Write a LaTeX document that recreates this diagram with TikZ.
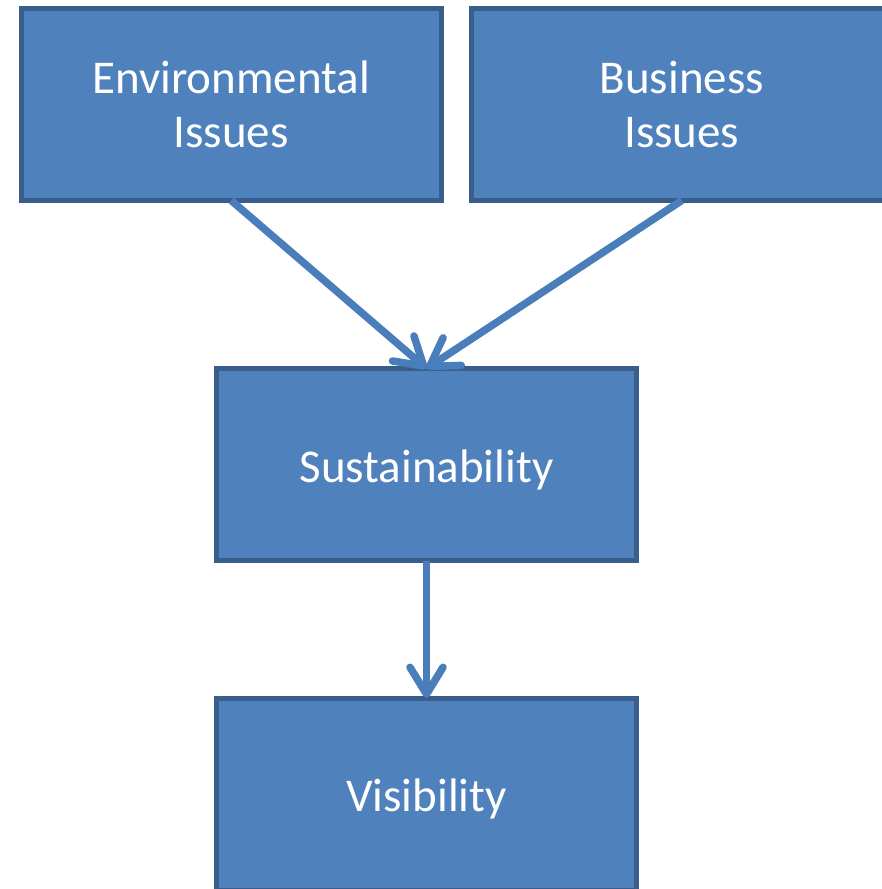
\documentclass[tikz,border=0pt]{standalone}
\usepackage{fontspec}
\setmainfont{Carlito}
\usetikzlibrary{arrows.meta}
\definecolor{boxfill}{HTML}{4F81BD}
\definecolor{boxline}{HTML}{3A5E8C}
\definecolor{arrowcol}{HTML}{4A7EBB}
\newcommand{\lowtext}[1]{\raisebox{-5pt}[\height][\depth]{#1}}
\tikzset{
  box/.style={rectangle, draw=boxline, fill=boxfill, line width=5pt, outer sep=0pt,
    minimum width=420.5pt, minimum height=192pt, inner sep=0pt,
    text=white, font=\fontsize{47}{54}\selectfont},
  conn/.style={draw=arrowcol, line width=7.5pt,
    -{Straight Barb[length=27pt, width=33pt, round]}}
}
\begin{document}
\begin{tikzpicture}[x=1pt, y=-1pt]
\useasboundingbox (0,0) rectangle (882,889);
\clip (0,0) rectangle (882,889);
\node[box, align=center] (env) at (231.25,104.5) {Environmental\\Issues};
\node[box, align=center] (bus) at (681.75,104.5) {Business\\Issues};
\node[box] (sus) at (426.5,464.5) {\lowtext{Sustainability}};
\node[box] (vis) at (426.5,794) {\lowtext{Visibility}};
\draw[conn] (env.south) -- (sus.north);
\draw[conn] (bus.south) -- (sus.north);
\draw[conn] (sus.south) -- (vis.north);
\end{tikzpicture}
\end{document}
